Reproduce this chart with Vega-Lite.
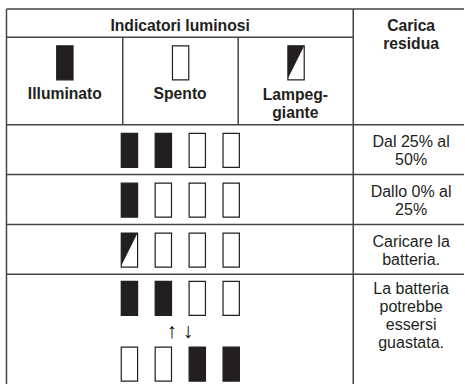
{
  "$schema": "https://vega.github.io/schema/vega-lite/v6.json",
  "width": 465,
  "height": 385,
  "autosize": {"type": "fit", "contains": "padding"},
  "padding": 0,
  "background": "white",
  "config": {"view": {"stroke": null}},
  "datasets": {
    "lines": [
      {"x": 6.5, "x2": 465, "y": 9, "y2": 9},
      {"x": 6.5, "x2": 6.5, "y": 9, "y2": 385},
      {"x": 354, "x2": 354, "y": 9, "y2": 385},
      {"x": 6.5, "x2": 354, "y": 37.3, "y2": 37.3},
      {"x": 123, "x2": 123, "y": 37.3, "y2": 125},
      {"x": 238.7, "x2": 238.7, "y": 37.3, "y2": 125},
      {"x": 6.5, "x2": 465, "y": 125, "y2": 125},
      {"x": 6.5, "x2": 465, "y": 175, "y2": 175},
      {"x": 6.5, "x2": 465, "y": 225, "y2": 225},
      {"x": 6.5, "x2": 465, "y": 275, "y2": 275}
    ],
    "cells": [
      {"x": 65, "y": 63, "state": "on"},
      {"x": 181, "y": 63, "state": "off"},
      {"x": 296.7, "y": 63, "state": "blink"},
      {"x": 129.7, "y": 150.7, "state": "on"},
      {"x": 163.7, "y": 150.7, "state": "on"},
      {"x": 197.7, "y": 150.7, "state": "off"},
      {"x": 231.7, "y": 150.7, "state": "off"},
      {"x": 129.7, "y": 200.7, "state": "on"},
      {"x": 163.7, "y": 200.7, "state": "off"},
      {"x": 197.7, "y": 200.7, "state": "off"},
      {"x": 231.7, "y": 200.7, "state": "off"},
      {"x": 129.7, "y": 250.7, "state": "blink"},
      {"x": 163.7, "y": 250.7, "state": "off"},
      {"x": 197.7, "y": 250.7, "state": "off"},
      {"x": 231.7, "y": 250.7, "state": "off"},
      {"x": 129.7, "y": 299.2, "state": "on"},
      {"x": 163.7, "y": 299.2, "state": "on"},
      {"x": 197.7, "y": 299.2, "state": "off"},
      {"x": 231.7, "y": 299.2, "state": "off"},
      {"x": 129.7, "y": 365, "state": "off"},
      {"x": 163.7, "y": 365, "state": "off"},
      {"x": 197.7, "y": 365, "state": "on"},
      {"x": 231.7, "y": 365, "state": "on"}
    ],
    "headers": [
      {"x": 180.5, "y": 31, "label": "Indicatori luminosi"},
      {"x": 412, "y": 31, "label": "Carica\nresidua"},
      {"x": 65, "y": 99, "label": "Illuminato"},
      {"x": 180.5, "y": 99, "label": "Spento"},
      {"x": 296, "y": 100, "label": "Lampeg-\ngiante"}
    ],
    "descriptions": [
      {"x": 412, "y": 147.7, "label": "Dal 25% al\n50%"},
      {"x": 412, "y": 197.7, "label": "Dallo 0% al\n25%"},
      {"x": 412, "y": 247.5, "label": "Caricare la\nbatteria."},
      {"x": 412, "y": 295, "label": "La batteria\npotrebbe\nessersi\nguastata."}
    ],
    "arrows": [
      {"x": 172, "y": 333.3, "label": "↑"},
      {"x": 188.3, "y": 333.3, "label": "↓"}
    ]
  },
  "layer": [
    {
      "data": {"name": "lines"},
      "mark": {"type": "rule", "color": "#444444", "strokeWidth": 1.5},
      "encoding": {
        "x": {"field": "x", "type": "quantitative", "scale": {"domain": [0, 465], "nice": false, "zero": false}, "axis": null},
        "x2": {"field": "x2"},
        "y": {"field": "y", "type": "quantitative", "scale": {"domain": [0, 385], "nice": false, "zero": false, "reverse": true}, "axis": null},
        "y2": {"field": "y2"}
      }
    },
    {
      "data": {"name": "cells"},
      "mark": {"type": "point", "shape": "M-0.48,-1H0.48V1H-0.48Z", "filled": true, "size": 1156, "stroke": "#231f20", "strokeWidth": 1.2, "opacity": 1},
      "encoding": {
        "x": {"field": "x", "type": "quantitative", "scale": {"domain": [0, 465], "nice": false, "zero": false}, "axis": null},
        "y": {"field": "y", "type": "quantitative", "scale": {"domain": [0, 385], "nice": false, "zero": false, "reverse": true}, "axis": null},
        "fill": {"field": "state", "type": "nominal", "scale": {"domain": ["on", "off", "blink"], "range": ["#231f20", "#ffffff", "#ffffff"]}, "legend": null}
      }
    },
    {
      "data": {"name": "cells"},
      "transform": [{"filter": "datum.state === 'blink'"}],
      "mark": {"type": "point", "shape": "M-0.48,-1L0.48,-1L-0.48,0.92Z", "filled": true, "size": 1156, "fill": "#231f20", "strokeWidth": 0, "opacity": 1},
      "encoding": {
        "x": {"field": "x", "type": "quantitative", "scale": {"domain": [0, 465], "nice": false, "zero": false}, "axis": null},
        "y": {"field": "y", "type": "quantitative", "scale": {"domain": [0, 385], "nice": false, "zero": false, "reverse": true}, "axis": null}
      }
    },
    {
      "data": {"name": "headers"},
      "mark": {"type": "text", "font": "Liberation Sans", "fontWeight": "bold", "fontSize": 15.7, "lineHeight": 18.5, "lineBreak": "\n", "align": "center", "baseline": "alphabetic", "color": "#231f20"},
      "encoding": {
        "x": {"field": "x", "type": "quantitative", "scale": {"domain": [0, 465], "nice": false, "zero": false}, "axis": null},
        "y": {"field": "y", "type": "quantitative", "scale": {"domain": [0, 385], "nice": false, "zero": false, "reverse": true}, "axis": null},
        "text": {"field": "label"}
      }
    },
    {
      "data": {"name": "descriptions"},
      "mark": {"type": "text", "font": "Liberation Sans", "fontSize": 16, "lineHeight": 17.8, "lineBreak": "\n", "align": "center", "baseline": "alphabetic", "color": "#231f20"},
      "encoding": {
        "x": {"field": "x", "type": "quantitative", "scale": {"domain": [0, 465], "nice": false, "zero": false}, "axis": null},
        "y": {"field": "y", "type": "quantitative", "scale": {"domain": [0, 385], "nice": false, "zero": false, "reverse": true}, "axis": null},
        "text": {"field": "label"}
      }
    },
    {
      "data": {"name": "arrows"},
      "mark": {"type": "text", "font": "Liberation Sans", "fontSize": 21, "align": "center", "baseline": "middle", "color": "#000000"},
      "encoding": {
        "x": {"field": "x", "type": "quantitative", "scale": {"domain": [0, 465], "nice": false, "zero": false}, "axis": null},
        "y": {"field": "y", "type": "quantitative", "scale": {"domain": [0, 385], "nice": false, "zero": false, "reverse": true}, "axis": null},
        "text": {"field": "label"}
      }
    }
  ]
}
